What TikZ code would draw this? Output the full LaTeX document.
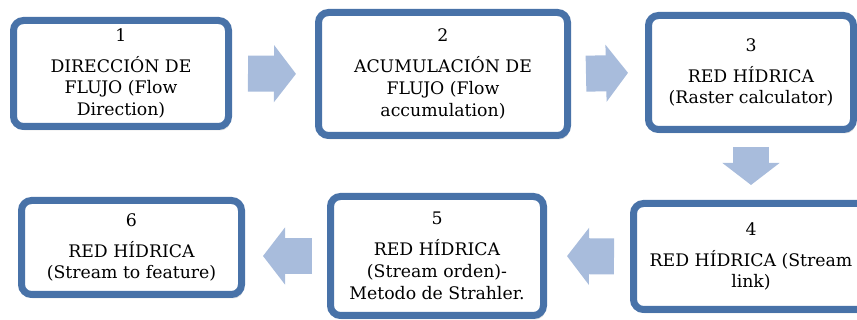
\documentclass[tikz,border=0pt]{standalone}
\usepackage{fontspec}
\setmainfont{DejaVu Serif}
\usetikzlibrary{arrows.meta,shadows}
\definecolor{bordeazul}{RGB}{72,114,168}
\definecolor{flechaazul}{RGB}{168,188,220}
\begin{document}
\begin{tikzpicture}[x=1pt,y=1pt]
		\tikzstyle{caja} = [draw=bordeazul, line width=7pt, fill=white, rounded corners=10pt, align=center, inner sep=0pt, font=\fontsize{17.3}{21.8}\selectfont, drop shadow={opacity=0.22, shadow xshift=2pt, shadow yshift=-4pt}]
		\tikzstyle{flecha} = [draw=flechaazul, line width=36pt, -{Triangle[length=22pt,width=56pt]}]
		\useasboundingbox (0,0) rectangle (857,320);
		\node [caja, minimum width=215pt, minimum height=106pt] (b1) at (121,246.5) {1\\[9pt]DIRECCIÓN DE\\FLUJO (Flow\\Direction)};
		\node [caja, minimum width=249pt, minimum height=123pt] (b2) at (443,246) {2\\[9pt]ACUMULACIÓN DE\\FLUJO (Flow\\accumulation)};
		\node [caja, minimum width=205pt, minimum height=114pt] (b3) at (751,247.5) {3\\[9pt]RED HÍDRICA\\(Raster calculator)};
		\node [caja, minimum width=235pt, minimum height=106pt] (b4) at (751,63.5) {4\\[9pt]RED HÍDRICA (Stream\\link)};
		\node [caja, minimum width=213pt, minimum height=119pt] (b5) at (437,64) {5\\[9pt]RED HÍDRICA\\(Stream orden)-\\Metodo de Strahler.};
		\node [caja, minimum width=220pt, minimum height=94pt] (b6) at (131.5,72.5) {6\\[9pt]RED HÍDRICA\\(Stream to feature)};
		\draw [flecha, shorten <=16pt, shorten >=19pt] (b1.east) -- (b2.west);
		\draw [flecha, shorten <=15pt, shorten >=17pt] (b2.east) -- (b3.west);
		\draw [flecha, shorten <=14pt, shorten >=15pt] (b3.south) -- (b4.north);
		\draw [flecha, shorten <=16pt, shorten >=20pt] (b4.west) -- (b5.east);
		\draw [flecha, shorten <=15pt, shorten >=18pt] (b5.west) -- (b5.west -| b6.east);
\end{tikzpicture}
\end{document}
